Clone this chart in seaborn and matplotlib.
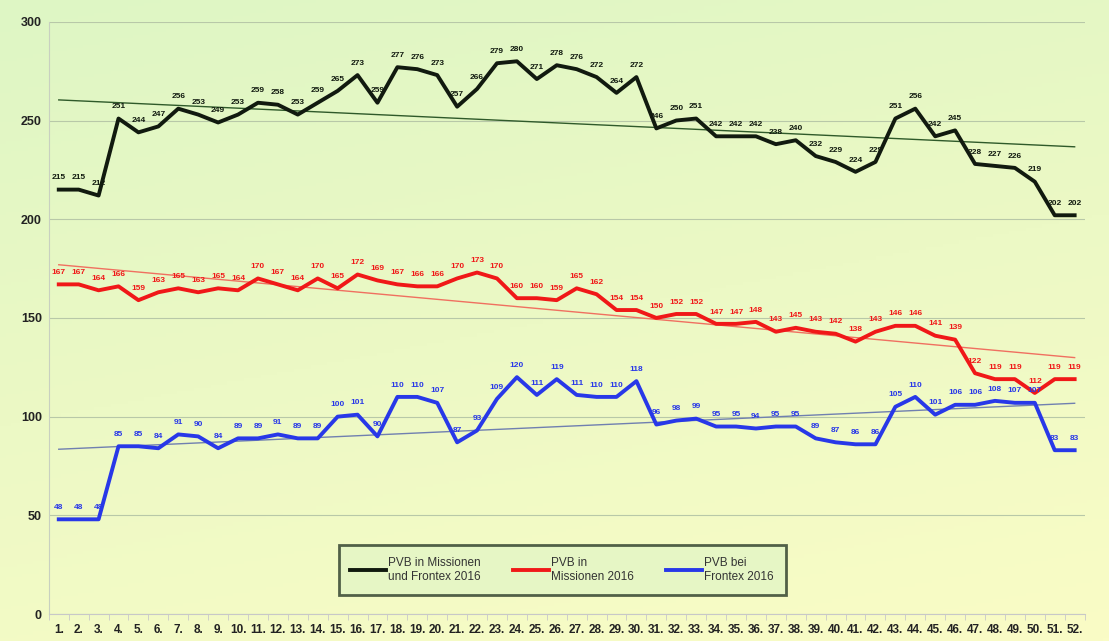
import matplotlib
matplotlib.use("Agg")
import matplotlib.pyplot as plt
import numpy as np
import pandas as pd
import seaborn as sns

weeks = np.arange(1, 53)
week_labels = [f"{w}." for w in weeks]

total = [215, 215, 212, 251, 244, 247, 256, 253, 249, 253, 259, 258, 253, 259, 265, 273, 259,
         277, 276, 273, 257, 266, 279, 280, 271, 278, 276, 272, 264, 272, 246, 250, 251, 242,
         242, 242, 238, 240, 232, 229, 224, 229, 251, 256, 242, 245, 228, 227, 226, 219, 202, 202]
missions = [167, 167, 164, 166, 159, 163, 165, 163, 165, 164, 170, 167, 164, 170, 165, 172, 169,
            167, 166, 166, 170, 173, 170, 160, 160, 159, 165, 162, 154, 154, 150, 152, 152, 147,
            147, 148, 143, 145, 143, 142, 138, 143, 146, 146, 141, 139, 122, 119, 119, 112, 119, 119]
frontex = [48, 48, 48, 85, 85, 84, 91, 90, 84, 89, 89, 91, 89, 89, 100, 101, 90, 110, 110, 107,
           87, 93, 109, 120, 111, 119, 111, 110, 110, 118, 96, 98, 99, 95, 95, 94, 95, 95, 89, 87,
           86, 86, 105, 110, 101, 106, 106, 108, 107, 107, 83, 83]

series_names = ["PVB in Missionen\nund Frontex 2016", "PVB in\nMissionen 2016", "PVB bei\nFrontex 2016"]
colors = ["#111a0f", "#f01818", "#2838e8"]
trend_colors = ["#2f5a2a", "#f07060", "#7080b0"]

df = pd.DataFrame({
    "week": np.tile(weeks, 3),
    "value": total + missions + frontex,
    "series": np.repeat(series_names, len(weeks)),
})

plt.rcParams["font.family"] = ["Liberation Sans", "DejaVu Sans"]

fig = plt.figure(figsize=(11.09, 6.41), dpi=100)

# background gradient (green top-left -> yellow bottom-right)
bg = fig.add_axes([0, 0, 1, 1], zorder=-10)
yy, xx = np.mgrid[0:1:200j, 0:1:200j]
t = np.clip(0.75 * yy + 0.25 * xx, 0, 1)
top = np.array([222, 246, 196]) / 255
bottom = np.array([250, 252, 198]) / 255
img = top[None, None, :] * (1 - t[..., None]) + bottom[None, None, :] * t[..., None]
bg.imshow(img, aspect="auto", extent=[0, 1, 0, 1], origin="upper")
bg.axis("off")

ax = fig.add_axes([0.044, 0.042, 0.934, 0.924])
ax.patch.set_alpha(0)

sns.lineplot(data=df, x="week", y="value", hue="series", hue_order=series_names,
             palette=colors, linewidth=2.8, ax=ax, legend=True, zorder=3)

# linear trend lines
for vals, c in zip([total, missions, frontex], trend_colors):
    k, d = np.polyfit(weeks, vals, 1)
    ax.plot(weeks, k * weeks + d, color=c, linewidth=1, zorder=2)

# data labels
for vals, c in zip([total, missions, frontex], colors):
    for w, v in zip(weeks, vals):
        ax.annotate(str(v), (w, v), xytext=(0, 6), textcoords="offset points",
                    ha="center", va="bottom", fontsize=6, fontweight="bold", color=c, zorder=4)

ax.set_xlim(0.5, 52.5)
ax.set_ylim(0, 300)
ax.set_yticks(range(0, 301, 50))
ax.set_xticks(weeks)
ax.set_xticklabels(week_labels)
ax.set_xticks(np.arange(0.5, 53, 1), minor=True)
ax.tick_params(axis="x", which="major", length=0, labelsize=8.5, pad=7, labelcolor="#222222")
ax.tick_params(axis="x", which="minor", length=4, color="#c8c8c8", direction="out")
ax.tick_params(axis="y", length=0, labelsize=9, labelcolor="#222222", pad=5)
for lab in ax.get_xticklabels() + ax.get_yticklabels():
    lab.set_fontweight("bold")
ax.grid(axis="y", color="#b8c8a8", linewidth=0.8)
ax.set_axisbelow(True)
ax.set_xlabel("")
ax.set_ylabel("")
for s in ["top", "right"]:
    ax.spines[s].set_visible(False)
ax.spines["left"].set_color("#c8d0c0")
ax.spines["bottom"].set_color("#c8c8c8")

handles, labels = ax.get_legend_handles_labels()
leg = ax.legend(handles, labels, ncol=3, loc="lower left", bbox_to_anchor=(0.274, 0.023, 0.443, 0.095),
                mode="expand", frameon=True, fontsize=8.5, handlelength=3.0, handletextpad=0.2,
                borderpad=1.0, columnspacing=2.0, fancybox=False)
leg.get_frame().set_edgecolor("#2a3a28")
leg.get_frame().set_linewidth(2)
leg.get_frame().set_facecolor("#e3f5c6")
for txt in leg.get_texts():
    txt.set_color("#333333")

fig.savefig("out.png", dpi=100)
